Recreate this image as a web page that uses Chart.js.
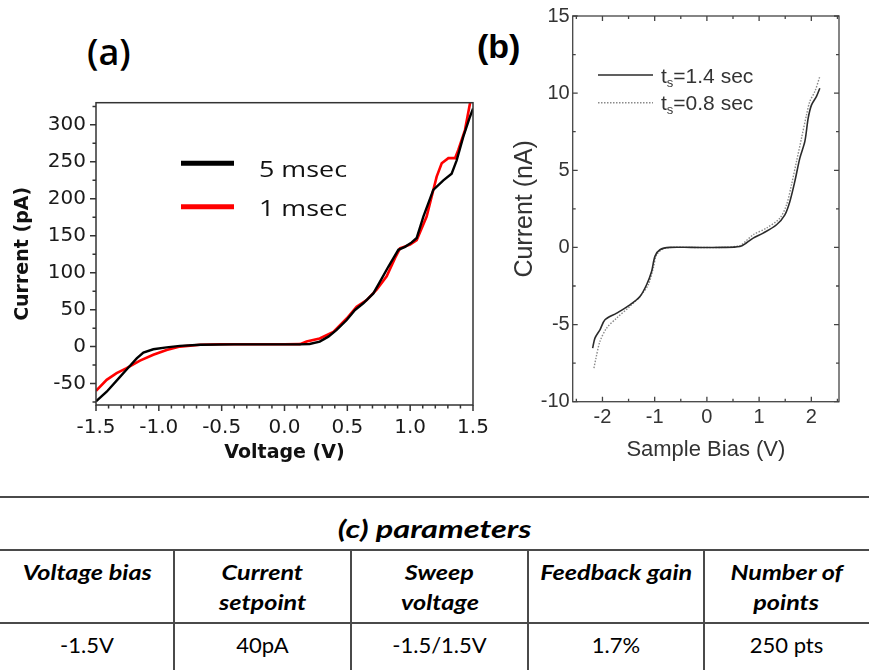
<!DOCTYPE html>
<html>
<head>
<meta charset="utf-8">
<title>I-V curves</title>
<script src="https://cdn.jsdelivr.net/npm/chart.js@4.4.1/dist/chart.umd.min.js"></script>
<style>
  html, body { margin: 0; padding: 0; background: #fff; }
  body { width: 869px; height: 670px; position: relative; overflow: hidden; }
  canvas { position: absolute; }
  #chartA { left: 0; top: 90px; }
  #chartB { left: 490px; top: 0; }
  .tag { position: absolute; line-height: 40px; color: #000; white-space: nowrap; }
  #tagA { left: 87px; top: 27px; font: 36px "Open Sans", sans-serif; font-weight: 600; }
  #tagB { left: 477px; top: 27px; font: bold 34px "Liberation Sans", Arial, sans-serif; }
  .rule { position: absolute; background: #4a4a4a; }
  .cell { position: absolute; text-align: center; font-family: Lato, sans-serif; color: #000; white-space: nowrap; }
  .cell span { display: inline-block; transform-origin: center; }
  .head { font-weight: bold; font-style: italic; font-size: 20px; line-height: 30px; }
  .head span { transform: scaleX(1.26); }
  .val { font-size: 22px; line-height: 30px; }
  #tblTitle { font-weight: bold; font-style: italic; font-size: 25px; line-height: 40px; }
  #tblTitle span { transform: scaleX(1.3); }
</style>
</head>
<body>
<div class="tag" id="tagA">(a)</div>
<div class="tag" id="tagB">(b)</div>
<canvas id="chartA" width="495" height="380"></canvas>
<canvas id="chartB" width="379" height="480"></canvas>
<div id="table"></div>
<script>
// ---------- panel (a): STM I-V, two integration times ----------
const voltA5 = [-1.5, -1.415, -1.309, -1.256, -1.176, -1.123, -1.044, -0.938, -0.832, -0.67, -0.4, 0.0, 0.123,
  0.2, 0.28, 0.349, 0.415, 0.495, 0.561, 0.627, 0.707, 0.76, 0.826, 0.906, 0.959, 1.012, 1.052, 1.105, 1.184,
  1.264, 1.33, 1.37, 1.423, 1.476, 1.5];
const currA5 = [-74, -61, -41, -31, -16, -8, -3.6, -1, 1, 2.5, 3, 3, 3,
  3.6, 6.8, 13.5, 22.6, 36, 49.6, 58.6, 72, 88, 108, 131, 135, 141, 147, 176, 212,
  225, 234, 252, 284, 311, 322];
const voltA1 = [-1.5, -1.415, -1.336, -1.256, -1.15, -1.044, -0.938, -0.832, -0.67, -0.513, 0.0, 0.123, 0.176,
  0.28, 0.389, 0.495, 0.574, 0.654, 0.733, 0.813, 0.88, 0.919, 0.999, 1.052, 1.131, 1.211, 1.251, 1.304, 1.357,
  1.383, 1.436, 1.476, 1.49];
const currA1 = [-60, -45, -36, -29, -19, -11, -4.5, 0, 2.5, 3.2, 3.2, 3.4, 6.8,
  11, 20, 38, 54, 63, 77, 95, 120, 133, 138, 144, 176, 230, 248, 255, 255,
  266, 293, 329, 336];
const xMajorA = [-1.5, -1.0, -0.5, 0.0, 0.5, 1.0, 1.5];
const yMajorA = [-50, 0, 50, 100, 150, 200, 250, 300];

// ---------- panel (b): sample bias sweep, two settle times ----------
const voltB14 = [-2.188, -2.144, -2.048, -1.952, -1.729, -1.474, -1.282, -1.155, -1.059, -0.995, -0.9, -0.708,
  -0.3, 0.3, 0.632, 0.759, 0.886, 1.078, 1.334, 1.493, 1.589, 1.684, 1.78, 1.876, 1.94, 2.004, 2.099, 2.163];
const currB14 = [-6.53, -5.88, -5.34, -4.69, -4.26, -3.72, -3.18, -2.42, -1.56, -0.58, -0.15, 0,
  0, 0, 0.06, 0.3, 0.6, 0.93, 1.47, 2.11, 2.98, 4.28, 5.79, 6.87, 8.38, 9.24, 9.79, 10.32];
const voltB08 = [-2.163, -2.124, -2.048, -1.92, -1.729, -1.474, -1.282, -1.123, -1.027, -0.963, -0.836, -0.676,
  -0.3, 0.3, 0.632, 0.759, 0.886, 1.14, 1.397, 1.525, 1.62, 1.716, 1.812, 1.908, 1.971, 2.067, 2.163];
const currB08 = [-7.82, -7.17, -6.09, -5.23, -4.58, -3.82, -3.18, -2.42, -1.34, -0.48, -0.09, 0,
  0, 0, 0.12, 0.45, 0.82, 1.25, 1.9, 2.76, 4.06, 5.57, 7.08, 8.59, 9.46, 10.1, 11.08];
const xMajorB = [-2, -1, 0, 1, 2];
const yMajorB = [-10, -5, 0, 5, 10, 15];

// ---------- panel (c): parameter table ----------
const tableTitle = "(c) parameters";
const paramHeaders = [["Voltage bias"], ["Current", "setpoint"], ["Sweep", "voltage"], ["Feedback gain"], ["Number of", "points"]];
const paramValues = ["-1.5V", "40pA", "-1.5/1.5V", "1.7%", "250 pts"];
const colEdges = [0, 174, 351, 528, 704, 869];

// helpers
const toPoints = (xs, ys) => xs.map((x, i) => ({ x: x, y: ys[i] }));
function tickList(min, max, step) {
  const out = [];
  const start = Math.ceil(min / step - 1e-9);
  const end = Math.floor(max / step + 1e-9);
  for (let k = start; k <= end; k++) out.push(+(k * step).toFixed(4));
  return out;
}
const isMajor = (majors, v) => majors.some((m) => Math.abs(m - v) < 1e-6);

// frame around the plot area plus tick marks (major/minor), in or out
const framePlugin = {
  id: "frame",
  afterDatasetsDraw(chart, args, o) {
    const { ctx, chartArea: { left, right, top, bottom }, scales: { x, y } } = chart;
    const d = o.inward ? 1 : -1;
    ctx.save();
    ctx.strokeStyle = o.color;
    ctx.lineWidth = o.width;
    ctx.strokeRect(left, top, right - left, bottom - top);
    ctx.beginPath();
    x.ticks.forEach((t) => {
      const px = x.getPixelForValue(t.value);
      const len = t.label !== "" ? o.major : o.minor;
      ctx.moveTo(px, bottom);
      ctx.lineTo(px, bottom - d * len);
      if (o.mirror) { ctx.moveTo(px, top); ctx.lineTo(px, top + len); }
    });
    y.ticks.forEach((t) => {
      const py = y.getPixelForValue(t.value);
      const len = t.label !== "" ? o.major : o.minor;
      ctx.moveTo(left, py);
      ctx.lineTo(left + d * len, py);
      if (o.mirror) { ctx.moveTo(right, py); ctx.lineTo(right - len, py); }
    });
    ctx.stroke();
    ctx.restore();
  },
};

// legend drawn inside the plot; "_x" in a label means subscript x
const insideLegend = {
  id: "insideLegend",
  afterDraw(chart, args, o) {
    const ctx = chart.ctx;
    ctx.save();
    chart.data.datasets.forEach((ds, i) => {
      const ly = o.lineY[i];
      ctx.beginPath();
      ctx.strokeStyle = ds.borderColor;
      ctx.lineWidth = o.lineWidth;
      ctx.setLineDash(ds.borderDash || []);
      ctx.moveTo(o.x0, ly);
      ctx.lineTo(o.x1, ly);
      ctx.stroke();
      ctx.setLineDash([]);

      ctx.save();
      ctx.fillStyle = o.color;
      ctx.textBaseline = "alphabetic";
      ctx.translate(o.textX, o.baseY[i]);
      ctx.scale(o.stretch || 1, 1);
      let px = 0;
      ds.label.split(/(_\w)/).forEach((part) => {
        if (!part) return;
        if (part[0] === "_") {
          ctx.font = o.subFont;
          ctx.fillText(part.slice(1), px, o.subDrop);
          px += ctx.measureText(part.slice(1)).width;
        } else {
          ctx.font = o.font;
          ctx.fillText(part, px, 0);
          px += ctx.measureText(part).width;
        }
      });
      ctx.restore();
    });
    ctx.restore();
  },
};

// ---------- chart (a) ----------
const xTicksA = tickList(-1.5, 1.5, 0.1);
const yTicksA = tickList(-79, 330, 25);
new Chart(document.getElementById("chartA"), {
  type: "line",
  data: {
    datasets: [
      { label: "5 msec", data: toPoints(voltA5, currA5), borderColor: "#000000", borderWidth: 2.4, pointRadius: 0, tension: 0 },
      { label: "1 msec", data: toPoints(voltA1, currA1), borderColor: "#ff0000", borderWidth: 2.6, pointRadius: 0, tension: 0 },
    ],
  },
  options: {
    responsive: false,
    animation: false,
    events: [],
    layout: { padding: { top: 12.7, right: 22, left: 0, bottom: 0 } },
    plugins: {
      legend: { display: false },
      tooltip: { enabled: false },
      frame: { color: "#333", width: 1.5, inward: false, mirror: false, major: 6, minor: 3.5 },
      insideLegend: {
        x0: 181, x1: 234, lineY: [73.3, 116.7], lineWidth: 5,
        textX: 259, baseY: [86.5, 125.5], stretch: 1.28,
        font: '21px "Open Sans", sans-serif', color: "#111",
      },
    },
    scales: {
      x: {
        type: "linear", min: -1.5, max: 1.5,
        grid: { display: false, drawTicks: false }, border: { display: false },
        afterBuildTicks: (s) => { s.ticks = xTicksA.map((v) => ({ value: v })); },
        afterFit: (s) => { s.height = 65; s.paddingLeft = 0; s.paddingRight = 0; },
        ticks: {
          autoSkip: false, maxRotation: 0, padding: 10.5, color: "#1a1a1a",
          font: { family: "DejaVu Sans", size: 20 },
          callback: (v) => (isMajor(xMajorA, v) ? v.toFixed(1) : ""),
        },
        title: {
          display: true, text: "Voltage (V)", color: "#111",
          font: { family: "DejaVu Sans", size: 19, weight: "bold" }, padding: { top: 0, bottom: 5.6 },
        },
      },
      y: {
        type: "linear", min: -79, max: 330,
        grid: { display: false, drawTicks: false }, border: { display: false },
        afterBuildTicks: (s) => { s.ticks = yTicksA.map((v) => ({ value: v })); },
        afterFit: (s) => { s.width = 96; s.paddingTop = 0; s.paddingBottom = 0; },
        ticks: {
          autoSkip: false, padding: 10, color: "#1a1a1a",
          font: { family: "DejaVu Sans", size: 20 },
          callback: (v) => (isMajor(yMajorA, v) ? String(v) : ""),
        },
        title: {
          display: true, text: "Current (pA)", color: "#111",
          font: { family: "DejaVu Sans", size: 19, weight: "bold" }, padding: { top: 11.6, bottom: 0 },
        },
      },
    },
  },
  plugins: [framePlugin, insideLegend],
});

// ---------- chart (b) ----------
const xTicksB = tickList(-2.57, 2.53, 0.5);
const yTicksB = tickList(-10, 15, 2.5);
new Chart(document.getElementById("chartB"), {
  type: "line",
  data: {
    datasets: [
      { label: "t_s=1.4 sec", data: toPoints(voltB14, currB14), borderColor: "#2b2b2b", borderWidth: 1.6, pointRadius: 0, tension: 0.3 },
      { label: "t_s=0.8 sec", data: toPoints(voltB08, currB08), borderColor: "#8a8a8a", borderWidth: 1.4, borderDash: [1.5, 1.5], pointRadius: 0, tension: 0.3 },
    ],
  },
  options: {
    responsive: false,
    animation: false,
    events: [],
    layout: { padding: { top: 16, right: 30, left: 0, bottom: 0 } },
    plugins: {
      legend: { display: false },
      tooltip: { enabled: false },
      frame: { color: "#444", width: 1.3, inward: true, mirror: true, major: 5, minor: 3 },
      insideLegend: {
        x0: 108, x1: 163, lineY: [75, 102.7], lineWidth: 1.5,
        textX: 171, baseY: [82.5, 110], stretch: 1,
        font: '21px "Liberation Sans", Arial, sans-serif',
        subFont: '13px "Liberation Sans", Arial, sans-serif', subDrop: 4, color: "#333",
      },
    },
    scales: {
      x: {
        type: "linear", min: -2.57, max: 2.53,
        grid: { display: false, drawTicks: false }, border: { display: false },
        afterBuildTicks: (s) => { s.ticks = xTicksB.map((v) => ({ value: v })); },
        afterFit: (s) => { s.height = 78.3; s.paddingLeft = 0; s.paddingRight = 0; },
        ticks: {
          autoSkip: false, maxRotation: 0, padding: 3.3, color: "#333",
          font: { family: "Liberation Sans", size: 20 },
          callback: (v) => (isMajor(xMajorB, v) ? String(v) : ""),
        },
        title: {
          display: true, text: "Sample Bias (V)", color: "#333",
          font: { family: "Liberation Sans", size: 22 }, padding: { top: 0, bottom: 16.8 },
        },
      },
      y: {
        type: "linear", min: -10, max: 15,
        grid: { display: false, drawTicks: false }, border: { display: false },
        afterBuildTicks: (s) => { s.ticks = yTicksB.map((v) => ({ value: v })); },
        afterFit: (s) => { s.width = 82.7; s.paddingTop = 0; s.paddingBottom = 0; },
        ticks: {
          autoSkip: false, padding: 3, color: "#333",
          font: { family: "Liberation Sans", size: 20 },
          callback: (v) => (isMajor(yMajorB, v) ? String(v) : ""),
        },
        title: {
          display: true, text: "Current (nA)", color: "#333",
          font: { family: "Liberation Sans", size: 25 }, padding: { top: 20, bottom: 0 },
        },
      },
    },
  },
  plugins: [framePlugin, insideLegend],
});

// ---------- table (c) ----------
function addDiv(cls, style, text) {
  const el = document.createElement("div");
  el.className = cls;
  Object.assign(el.style, style);
  if (text !== undefined) {
    const span = document.createElement("span");
    span.textContent = text;
    el.appendChild(span);
  }
  document.getElementById("table").appendChild(el);
  return el;
}
addDiv("rule", { left: "0px", top: "496px", width: "869px", height: "2px" });
addDiv("rule", { left: "0px", top: "549px", width: "869px", height: "2px" });
addDiv("rule", { left: "0px", top: "621.5px", width: "869px", height: "2px" });
colEdges.slice(1, -1).forEach((x) => {
  addDiv("rule", { left: x - 1 + "px", top: "550px", width: "2px", height: "120px" });
});
addDiv("cell", { left: "0px", top: "508px", width: "869px" }, tableTitle).id = "tblTitle";
paramHeaders.forEach((lines, i) => {
  const left = colEdges[i], w = colEdges[i + 1] - colEdges[i];
  lines.forEach((line, j) => {
    addDiv("cell head", { left: left + "px", top: 557 + j * 30 + "px", width: w + "px" }, line);
  });
  addDiv("cell val", { left: left + "px", top: "629.5px", width: w + "px" }, paramValues[i]);
});
</script>
</body>
</html>
